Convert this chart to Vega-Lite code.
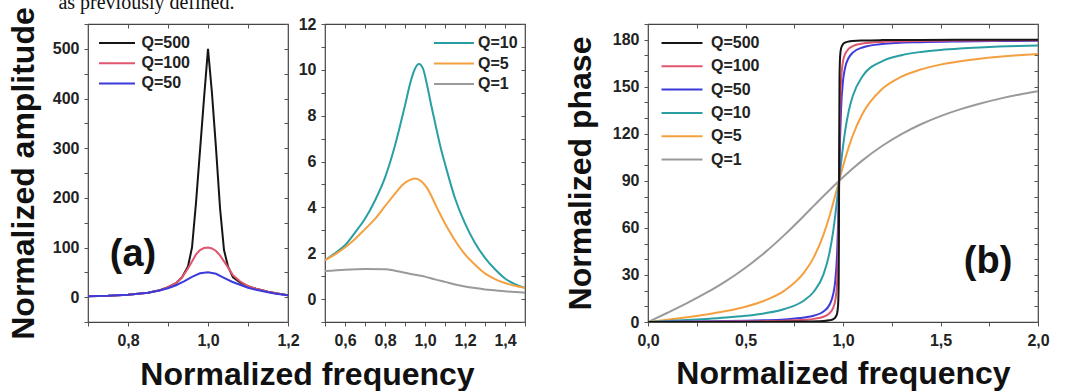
{
  "$schema": "https://vega.github.io/schema/vega-lite/v6.json",
  "background": "white",
  "padding": {"left": 6, "top": -7, "right": 0, "bottom": 0},
  "title": {"text": "as previously defined.", "anchor": "start", "font": "Liberation Serif", "fontSize": 20, "fontWeight": "normal", "color": "#111", "dx": 52, "offset": -7},
  "bounds": "flush",
  "spacing": 37,
  "config": {
    "font": "Liberation Sans",
    "view": {"stroke": "#444", "strokeWidth": 1.2},
    "axis": {"labelFont": "Liberation Sans", "labelFontWeight": "bold", "labelFontSize": 16, "labelColor": "#222", "tickColor": "#555", "tickWidth": 1, "tickSize": 4, "domain": false, "grid": false, "titleFont": "Liberation Sans", "titleFontWeight": "bold", "titleFontSize": 32, "titleColor": "#111", "labelOverlap": false, "labelFlush": false, "labelBound": false},
    "legend": {"labelFont": "Liberation Sans", "labelFontWeight": "bold", "labelFontSize": 16, "labelColor": "#222", "symbolStrokeWidth": 2.2, "padding": 0, "title": null, "orient": "none"},
    "line": {"strokeWidth": 2}
  },
  "datasets": {
    "amp1": [
      {"w": 0.7, "a": 2, "s": "Q=500"}, {"w": 0.75, "a": 3, "s": "Q=500"}, {"w": 0.8, "a": 5, "s": "Q=500"}, {"w": 0.85, "a": 9, "s": "Q=500"}, {"w": 0.88, "a": 14, "s": "Q=500"}, {"w": 0.9, "a": 20, "s": "Q=500"}, {"w": 0.92, "a": 28, "s": "Q=500"}, {"w": 0.935, "a": 40, "s": "Q=500"}, {"w": 0.95, "a": 62, "s": "Q=500"}, {"w": 0.96, "a": 100, "s": "Q=500"}, {"w": 0.97, "a": 190, "s": "Q=500"}, {"w": 0.98, "a": 295, "s": "Q=500"}, {"w": 0.99, "a": 400, "s": "Q=500"}, {"w": 1.0, "a": 500, "s": "Q=500"}, {"w": 1.01, "a": 410, "s": "Q=500"}, {"w": 1.02, "a": 300, "s": "Q=500"}, {"w": 1.03, "a": 180, "s": "Q=500"}, {"w": 1.04, "a": 95, "s": "Q=500"}, {"w": 1.05, "a": 62, "s": "Q=500"}, {"w": 1.0625, "a": 40, "s": "Q=500"}, {"w": 1.08, "a": 30, "s": "Q=500"}, {"w": 1.1, "a": 22, "s": "Q=500"}, {"w": 1.12, "a": 17, "s": "Q=500"}, {"w": 1.15, "a": 11, "s": "Q=500"}, {"w": 1.17, "a": 8, "s": "Q=500"}, {"w": 1.2, "a": 4, "s": "Q=500"},
      {"w": 0.7, "a": 2, "s": "Q=100"}, {"w": 0.75, "a": 3, "s": "Q=100"}, {"w": 0.8, "a": 5, "s": "Q=100"}, {"w": 0.85, "a": 9, "s": "Q=100"}, {"w": 0.88, "a": 14, "s": "Q=100"}, {"w": 0.9, "a": 20, "s": "Q=100"}, {"w": 0.92, "a": 28, "s": "Q=100"}, {"w": 0.935, "a": 40, "s": "Q=100"}, {"w": 0.95, "a": 58, "s": "Q=100"}, {"w": 0.96, "a": 72, "s": "Q=100"}, {"w": 0.97, "a": 86, "s": "Q=100"}, {"w": 0.98, "a": 95, "s": "Q=100"}, {"w": 0.99, "a": 99, "s": "Q=100"}, {"w": 1.0, "a": 100, "s": "Q=100"}, {"w": 1.01, "a": 98, "s": "Q=100"}, {"w": 1.02, "a": 93, "s": "Q=100"}, {"w": 1.03, "a": 84, "s": "Q=100"}, {"w": 1.04, "a": 72, "s": "Q=100"}, {"w": 1.05, "a": 60, "s": "Q=100"}, {"w": 1.0625, "a": 44, "s": "Q=100"}, {"w": 1.08, "a": 32, "s": "Q=100"}, {"w": 1.1, "a": 22, "s": "Q=100"}, {"w": 1.12, "a": 17, "s": "Q=100"}, {"w": 1.15, "a": 11, "s": "Q=100"}, {"w": 1.17, "a": 8, "s": "Q=100"}, {"w": 1.2, "a": 4, "s": "Q=100"},
      {"w": 0.7, "a": 2, "s": "Q=50"}, {"w": 0.75, "a": 3, "s": "Q=50"}, {"w": 0.8, "a": 5, "s": "Q=50"}, {"w": 0.85, "a": 9, "s": "Q=50"}, {"w": 0.88, "a": 14, "s": "Q=50"}, {"w": 0.9, "a": 18, "s": "Q=50"}, {"w": 0.92, "a": 24, "s": "Q=50"}, {"w": 0.94, "a": 32, "s": "Q=50"}, {"w": 0.96, "a": 41, "s": "Q=50"}, {"w": 0.98, "a": 48, "s": "Q=50"}, {"w": 1.0, "a": 50, "s": "Q=50"}, {"w": 1.02, "a": 47, "s": "Q=50"}, {"w": 1.04, "a": 39, "s": "Q=50"}, {"w": 1.06, "a": 31, "s": "Q=50"}, {"w": 1.08, "a": 25, "s": "Q=50"}, {"w": 1.1, "a": 19, "s": "Q=50"}, {"w": 1.12, "a": 15, "s": "Q=50"}, {"w": 1.15, "a": 10, "s": "Q=50"}, {"w": 1.17, "a": 7, "s": "Q=50"}, {"w": 1.2, "a": 4, "s": "Q=50"}
    ],
    "amp2": [
      {"w": 0.5, "a": 1.7, "s": "Q=10"}, {"w": 0.55, "a": 2.0, "s": "Q=10"}, {"w": 0.6, "a": 2.35, "s": "Q=10"}, {"w": 0.65, "a": 2.9, "s": "Q=10"}, {"w": 0.7, "a": 3.5, "s": "Q=10"}, {"w": 0.75, "a": 4.3, "s": "Q=10"}, {"w": 0.8, "a": 5.3, "s": "Q=10"}, {"w": 0.85, "a": 6.7, "s": "Q=10"}, {"w": 0.9, "a": 8.45, "s": "Q=10"}, {"w": 0.93, "a": 9.55, "s": "Q=10"}, {"w": 0.95, "a": 10.05, "s": "Q=10"}, {"w": 0.97, "a": 10.25, "s": "Q=10"}, {"w": 0.99, "a": 10.05, "s": "Q=10"}, {"w": 1.01, "a": 9.35, "s": "Q=10"}, {"w": 1.03, "a": 8.5, "s": "Q=10"}, {"w": 1.05, "a": 7.7, "s": "Q=10"}, {"w": 1.08, "a": 6.55, "s": "Q=10"}, {"w": 1.1, "a": 5.9, "s": "Q=10"}, {"w": 1.15, "a": 4.4, "s": "Q=10"}, {"w": 1.2, "a": 3.3, "s": "Q=10"}, {"w": 1.25, "a": 2.45, "s": "Q=10"}, {"w": 1.3, "a": 1.8, "s": "Q=10"}, {"w": 1.35, "a": 1.3, "s": "Q=10"}, {"w": 1.4, "a": 0.9, "s": "Q=10"}, {"w": 1.45, "a": 0.65, "s": "Q=10"}, {"w": 1.5, "a": 0.49, "s": "Q=10"},
      {"w": 0.5, "a": 1.7, "s": "Q=5"}, {"w": 0.55, "a": 1.95, "s": "Q=5"}, {"w": 0.6, "a": 2.25, "s": "Q=5"}, {"w": 0.65, "a": 2.62, "s": "Q=5"}, {"w": 0.7, "a": 3.05, "s": "Q=5"}, {"w": 0.75, "a": 3.5, "s": "Q=5"}, {"w": 0.8, "a": 4.05, "s": "Q=5"}, {"w": 0.85, "a": 4.6, "s": "Q=5"}, {"w": 0.89, "a": 5.0, "s": "Q=5"}, {"w": 0.92, "a": 5.18, "s": "Q=5"}, {"w": 0.95, "a": 5.26, "s": "Q=5"}, {"w": 0.98, "a": 5.15, "s": "Q=5"}, {"w": 1.01, "a": 4.85, "s": "Q=5"}, {"w": 1.06, "a": 3.98, "s": "Q=5"}, {"w": 1.1, "a": 3.3, "s": "Q=5"}, {"w": 1.14, "a": 2.7, "s": "Q=5"}, {"w": 1.2, "a": 1.95, "s": "Q=5"}, {"w": 1.25, "a": 1.5, "s": "Q=5"}, {"w": 1.3, "a": 1.12, "s": "Q=5"}, {"w": 1.35, "a": 0.87, "s": "Q=5"}, {"w": 1.4, "a": 0.7, "s": "Q=5"}, {"w": 1.45, "a": 0.58, "s": "Q=5"}, {"w": 1.5, "a": 0.49, "s": "Q=5"},
      {"w": 0.5, "a": 1.22, "s": "Q=1"}, {"w": 0.6, "a": 1.28, "s": "Q=1"}, {"w": 0.7, "a": 1.31, "s": "Q=1"}, {"w": 0.8, "a": 1.3, "s": "Q=1"}, {"w": 0.85, "a": 1.24, "s": "Q=1"}, {"w": 0.9, "a": 1.15, "s": "Q=1"}, {"w": 0.95, "a": 1.06, "s": "Q=1"}, {"w": 1.0, "a": 0.98, "s": "Q=1"}, {"w": 1.05, "a": 0.86, "s": "Q=1"}, {"w": 1.1, "a": 0.75, "s": "Q=1"}, {"w": 1.15, "a": 0.64, "s": "Q=1"}, {"w": 1.2, "a": 0.55, "s": "Q=1"}, {"w": 1.25, "a": 0.48, "s": "Q=1"}, {"w": 1.3, "a": 0.42, "s": "Q=1"}, {"w": 1.35, "a": 0.38, "s": "Q=1"}, {"w": 1.4, "a": 0.34, "s": "Q=1"}, {"w": 1.45, "a": 0.31, "s": "Q=1"}, {"w": 1.5, "a": 0.28, "s": "Q=1"}
    ],
    "phase": [
      {"w": 0, "p": 0, "s": "Q=1"}, {"w": 0.1, "p": 5.89, "s": "Q=1"}, {"w": 0.2, "p": 12.02, "s": "Q=1"}, {"w": 0.3, "p": 18.67, "s": "Q=1"}, {"w": 0.4, "p": 26.09, "s": "Q=1"}, {"w": 0.5, "p": 34.6, "s": "Q=1"}, {"w": 0.6, "p": 44.4, "s": "Q=1"}, {"w": 0.7, "p": 55.56, "s": "Q=1"}, {"w": 0.8, "p": 67.77, "s": "Q=1"}, {"w": 0.85, "p": 74.06, "s": "Q=1"}, {"w": 0.9, "p": 80.32, "s": "Q=1"}, {"w": 0.93, "p": 84.02, "s": "Q=1"}, {"w": 0.95, "p": 86.44, "s": "Q=1"}, {"w": 0.97, "p": 88.83, "s": "Q=1"}, {"w": 0.98, "p": 90, "s": "Q=1"}, {"w": 0.99, "p": 91.16, "s": "Q=1"}, {"w": 1.0, "p": 92.31, "s": "Q=1"}, {"w": 1.03, "p": 95.69, "s": "Q=1"}, {"w": 1.05, "p": 97.86, "s": "Q=1"}, {"w": 1.1, "p": 103.04, "s": "Q=1"}, {"w": 1.2, "p": 112.19, "s": "Q=1"}, {"w": 1.3, "p": 119.8, "s": "Q=1"}, {"w": 1.4, "p": 126.08, "s": "Q=1"}, {"w": 1.5, "p": 131.26, "s": "Q=1"}, {"w": 1.6, "p": 135.57, "s": "Q=1"}, {"w": 1.7, "p": 139.19, "s": "Q=1"}, {"w": 1.8, "p": 142.26, "s": "Q=1"}, {"w": 1.9, "p": 144.9, "s": "Q=1"}, {"w": 2.0, "p": 147.19, "s": "Q=1"},
      {"w": 0, "p": 0, "s": "Q=5"}, {"w": 0.1, "p": 1.48, "s": "Q=5"}, {"w": 0.2, "p": 3.05, "s": "Q=5"}, {"w": 0.3, "p": 4.83, "s": "Q=5"}, {"w": 0.4, "p": 6.98, "s": "Q=5"}, {"w": 0.5, "p": 9.78, "s": "Q=5"}, {"w": 0.6, "p": 13.76, "s": "Q=5"}, {"w": 0.7, "p": 20.03, "s": "Q=5"}, {"w": 0.8, "p": 31.46, "s": "Q=5"}, {"w": 0.85, "p": 41.2, "s": "Q=5"}, {"w": 0.9, "p": 55.7, "s": "Q=5"}, {"w": 0.93, "p": 67.26, "s": "Q=5"}, {"w": 0.95, "p": 76.03, "s": "Q=5"}, {"w": 0.96, "p": 80.63, "s": "Q=5"}, {"w": 0.97, "p": 85.31, "s": "Q=5"}, {"w": 0.98, "p": 90, "s": "Q=5"}, {"w": 0.99, "p": 94.64, "s": "Q=5"}, {"w": 1.0, "p": 99.18, "s": "Q=5"}, {"w": 1.01, "p": 103.56, "s": "Q=5"}, {"w": 1.03, "p": 111.72, "s": "Q=5"}, {"w": 1.05, "p": 118.91, "s": "Q=5"}, {"w": 1.1, "p": 132.8, "s": "Q=5"}, {"w": 1.2, "p": 148.5, "s": "Q=5"}, {"w": 1.3, "p": 156.42, "s": "Q=5"}, {"w": 1.4, "p": 161.06, "s": "Q=5"}, {"w": 1.5, "p": 164.09, "s": "Q=5"}, {"w": 1.6, "p": 166.23, "s": "Q=5"}, {"w": 1.7, "p": 167.82, "s": "Q=5"}, {"w": 1.8, "p": 169.05, "s": "Q=5"}, {"w": 1.9, "p": 170.04, "s": "Q=5"}, {"w": 2.0, "p": 170.84, "s": "Q=5"},
      {"w": 0, "p": 0, "s": "Q=10"}, {"w": 0.1, "p": 0.59, "s": "Q=10"}, {"w": 0.2, "p": 1.22, "s": "Q=10"}, {"w": 0.3, "p": 1.93, "s": "Q=10"}, {"w": 0.4, "p": 2.8, "s": "Q=10"}, {"w": 0.5, "p": 3.95, "s": "Q=10"}, {"w": 0.6, "p": 5.59, "s": "Q=10"}, {"w": 0.7, "p": 8.3, "s": "Q=10"}, {"w": 0.8, "p": 13.75, "s": "Q=10"}, {"w": 0.85, "p": 19.3, "s": "Q=10"}, {"w": 0.9, "p": 30.39, "s": "Q=10"}, {"w": 0.93, "p": 43.66, "s": "Q=10"}, {"w": 0.95, "p": 58.12, "s": "Q=10"}, {"w": 0.96, "p": 67.59, "s": "Q=10"}, {"w": 0.97, "p": 78.41, "s": "Q=10"}, {"w": 0.975, "p": 84.16, "s": "Q=10"}, {"w": 0.98, "p": 90, "s": "Q=10"}, {"w": 0.985, "p": 95.81, "s": "Q=10"}, {"w": 0.99, "p": 101.48, "s": "Q=10"}, {"w": 1.0, "p": 112.0, "s": "Q=10"}, {"w": 1.01, "p": 121.09, "s": "Q=10"}, {"w": 1.03, "p": 134.87, "s": "Q=10"}, {"w": 1.05, "p": 144.09, "s": "Q=10"}, {"w": 1.1, "p": 156.64, "s": "Q=10"}, {"w": 1.2, "p": 166.22, "s": "Q=10"}, {"w": 1.3, "p": 170.1, "s": "Q=10"}, {"w": 1.4, "p": 172.19, "s": "Q=10"}, {"w": 1.5, "p": 173.5, "s": "Q=10"}, {"w": 1.6, "p": 174.4, "s": "Q=10"}, {"w": 1.7, "p": 175.06, "s": "Q=10"}, {"w": 1.8, "p": 175.58, "s": "Q=10"}, {"w": 1.9, "p": 175.98, "s": "Q=10"}, {"w": 2.0, "p": 176.31, "s": "Q=10"},
      {"w": 0, "p": 0, "s": "Q=50"}, {"w": 0.2, "p": 0.24, "s": "Q=50"}, {"w": 0.4, "p": 0.56, "s": "Q=50"}, {"w": 0.5, "p": 0.79, "s": "Q=50"}, {"w": 0.6, "p": 1.12, "s": "Q=50"}, {"w": 0.7, "p": 1.67, "s": "Q=50"}, {"w": 0.8, "p": 2.8, "s": "Q=50"}, {"w": 0.85, "p": 4.01, "s": "Q=50"}, {"w": 0.9, "p": 6.69, "s": "Q=50"}, {"w": 0.93, "p": 10.81, "s": "Q=50"}, {"w": 0.95, "p": 17.83, "s": "Q=50"}, {"w": 0.96, "p": 25.87, "s": "Q=50"}, {"w": 0.97, "p": 44.28, "s": "Q=50"}, {"w": 0.975, "p": 62.9, "s": "Q=50"}, {"w": 0.978, "p": 78.45, "s": "Q=50"}, {"w": 0.98, "p": 90, "s": "Q=50"}, {"w": 0.982, "p": 101.55, "s": "Q=50"}, {"w": 0.985, "p": 116.97, "s": "Q=50"}, {"w": 0.99, "p": 135.43, "s": "Q=50"}, {"w": 1.0, "p": 153.67, "s": "Q=50"}, {"w": 1.01, "p": 161.65, "s": "Q=50"}, {"w": 1.03, "p": 168.64, "s": "Q=50"}, {"w": 1.05, "p": 171.76, "s": "Q=50"}, {"w": 1.1, "p": 175.06, "s": "Q=50"}, {"w": 1.2, "p": 177.19, "s": "Q=50"}, {"w": 1.4, "p": 178.43, "s": "Q=50"}, {"w": 1.6, "p": 178.88, "s": "Q=50"}, {"w": 1.8, "p": 179.11, "s": "Q=50"}, {"w": 2.0, "p": 179.26, "s": "Q=50"},
      {"w": 0, "p": 0, "s": "Q=100"}, {"w": 0.2, "p": 0.12, "s": "Q=100"}, {"w": 0.4, "p": 0.28, "s": "Q=100"}, {"w": 0.6, "p": 0.56, "s": "Q=100"}, {"w": 0.7, "p": 0.84, "s": "Q=100"}, {"w": 0.8, "p": 1.4, "s": "Q=100"}, {"w": 0.85, "p": 2.0, "s": "Q=100"}, {"w": 0.9, "p": 3.36, "s": "Q=100"}, {"w": 0.93, "p": 5.45, "s": "Q=100"}, {"w": 0.95, "p": 9.13, "s": "Q=100"}, {"w": 0.96, "p": 13.63, "s": "Q=100"}, {"w": 0.97, "p": 26.0, "s": "Q=100"}, {"w": 0.975, "p": 44.34, "s": "Q=100"}, {"w": 0.978, "p": 67.77, "s": "Q=100"}, {"w": 0.98, "p": 90, "s": "Q=100"}, {"w": 0.982, "p": 112.23, "s": "Q=100"}, {"w": 0.985, "p": 135.5, "s": "Q=100"}, {"w": 0.99, "p": 153.78, "s": "Q=100"}, {"w": 1.0, "p": 166.1, "s": "Q=100"}, {"w": 1.01, "p": 170.59, "s": "Q=100"}, {"w": 1.03, "p": 174.26, "s": "Q=100"}, {"w": 1.05, "p": 175.86, "s": "Q=100"}, {"w": 1.1, "p": 177.53, "s": "Q=100"}, {"w": 1.2, "p": 178.6, "s": "Q=100"}, {"w": 1.4, "p": 179.21, "s": "Q=100"}, {"w": 1.6, "p": 179.44, "s": "Q=100"}, {"w": 1.8, "p": 179.56, "s": "Q=100"}, {"w": 2.0, "p": 179.63, "s": "Q=100"},
      {"w": 0, "p": 0, "s": "Q=500"}, {"w": 0.4, "p": 0.06, "s": "Q=500"}, {"w": 0.6, "p": 0.11, "s": "Q=500"}, {"w": 0.8, "p": 0.28, "s": "Q=500"}, {"w": 0.9, "p": 0.67, "s": "Q=500"}, {"w": 0.93, "p": 1.09, "s": "Q=500"}, {"w": 0.95, "p": 1.84, "s": "Q=500"}, {"w": 0.96, "p": 2.78, "s": "Q=500"}, {"w": 0.97, "p": 5.57, "s": "Q=500"}, {"w": 0.975, "p": 11.06, "s": "Q=500"}, {"w": 0.978, "p": 26.06, "s": "Q=500"}, {"w": 0.98, "p": 90, "s": "Q=500"}, {"w": 0.982, "p": 153.94, "s": "Q=500"}, {"w": 0.985, "p": 168.88, "s": "Q=500"}, {"w": 0.99, "p": 174.37, "s": "Q=500"}, {"w": 1.0, "p": 177.17, "s": "Q=500"}, {"w": 1.01, "p": 178.1, "s": "Q=500"}, {"w": 1.03, "p": 178.85, "s": "Q=500"}, {"w": 1.05, "p": 179.17, "s": "Q=500"}, {"w": 1.1, "p": 179.51, "s": "Q=500"}, {"w": 1.2, "p": 179.72, "s": "Q=500"}, {"w": 1.4, "p": 179.84, "s": "Q=500"}, {"w": 1.6, "p": 179.89, "s": "Q=500"}, {"w": 1.8, "p": 179.91, "s": "Q=500"}, {"w": 2.0, "p": 179.93, "s": "Q=500"}
    ]
  },
  "resolve": {"scale": {"color": "independent", "x": "independent", "y": "independent"}},
  "hconcat": [
    {
      "width": 200, "height": 298,
      "layer": [
        {
          "data": {"name": "amp1"},
          "mark": {"type": "line", "strokeWidth": 2, "clip": true},
          "encoding": {
            "x": {"field": "w", "type": "quantitative", "scale": {"domain": [0.7, 1.2], "nice": false, "zero": false},
              "axis": {"orient": "bottom", "values": [0.7, 0.8, 0.9, 1.0, 1.1, 1.2], "labelExpr": "round(datum.value*10)%2==0 ? replace(format(datum.value,'.1f'),'.',',') : ''", "labelPadding": 6, "title": "Normalized frequency", "titleX": 219, "titleY": 62, "titleBaseline": "alphabetic", "titleAlign": "center"}},
            "y": {"field": "a", "type": "quantitative", "scale": {"domain": [-50, 550], "nice": false, "zero": false},
              "axis": {"orient": "left", "values": [-50, 0, 50, 100, 150, 200, 250, 300, 350, 400, 450, 500, 550], "labelExpr": "datum.value>=0 && datum.value<=500 && datum.value%100==0 ? format(datum.value,'d') : ''", "labelPadding": 5, "title": "Normalized amplitude", "titleX": -55, "titleY": 149, "titleBaseline": "alphabetic", "titleAlign": "center", "titleAngle": 270}},
            "color": {"field": "s", "type": "nominal", "scale": {"domain": ["Q=500", "Q=100", "Q=50"], "range": ["#151515", "#e0566e", "#3b3bdc"]},
              "legend": {"legendX": 21, "legendY": 11, "symbolType": "M-4,0H4", "symbolSize": 81, "labelOffset": 16.5, "rowPadding": 4.2}}
          }
        },
        {
          "data": {"name": "amp1"},
          "mark": {"type": "line", "opacity": 0},
          "encoding": {
            "x": {"field": "w", "type": "quantitative", "axis": {"orient": "top", "values": [0.7, 0.8, 0.9, 1.0, 1.1, 1.2], "labels": false, "tickSize": -4, "title": null}},
            "y": {"field": "a", "type": "quantitative", "axis": {"orient": "right", "values": [-50, 0, 50, 100, 150, 200, 250, 300, 350, 400, 450, 500, 550], "labels": false, "tickSize": -4, "title": null}},
            "detail": {"field": "s"}
          }
        },
        {
          "data": {"values": [{"label": "(a)"}]},
          "mark": {"type": "text", "font": "Liberation Sans", "fontWeight": "bold", "fontSize": 38, "align": "center", "baseline": "middle", "color": "#111"},
          "encoding": {
            "x": {"datum": 0.8125, "type": "quantitative", "axis": null},
            "y": {"datum": 85, "type": "quantitative", "axis": null},
            "text": {"field": "label"}
          }
        }
      ],
      "resolve": {"axis": {"x": "independent", "y": "independent"}}
    },
    {
      "width": 200, "height": 298,
      "layer": [
        {
          "data": {"name": "amp2"},
          "mark": {"type": "line", "strokeWidth": 2, "clip": true, "interpolate": "monotone"},
          "encoding": {
            "x": {"field": "w", "type": "quantitative", "scale": {"domain": [0.5, 1.5], "nice": false, "zero": false},
              "axis": {"orient": "bottom", "values": [0.5, 0.6, 0.7, 0.8, 0.9, 1.0, 1.1, 1.2, 1.3, 1.4, 1.5], "labelExpr": "round(datum.value*10)%2==0 ? replace(format(datum.value,'.1f'),'.',',') : ''", "labelPadding": 6, "title": null}},
            "y": {"field": "a", "type": "quantitative", "scale": {"domain": [-1, 12], "nice": false, "zero": false},
              "axis": {"orient": "left", "values": [-1, 0, 1, 2, 3, 4, 5, 6, 7, 8, 9, 10, 11, 12], "labelExpr": "datum.value>=0 && datum.value%2==0 ? format(datum.value,'d') : ''", "labelPadding": 5, "title": null}},
            "color": {"field": "s", "type": "nominal", "scale": {"domain": ["Q=10", "Q=5", "Q=1"], "range": ["#2a9fa3", "#f4a040", "#9a9a9a"]},
              "legend": {"legendX": 121, "legendY": 11, "symbolType": "M-4,0H4", "symbolSize": 100, "labelOffset": 16, "rowPadding": 4.5}}
          }
        },
        {
          "data": {"name": "amp2"},
          "mark": {"type": "line", "opacity": 0},
          "encoding": {
            "x": {"field": "w", "type": "quantitative", "axis": {"orient": "top", "values": [0.5, 0.6, 0.7, 0.8, 0.9, 1.0, 1.1, 1.2, 1.3, 1.4, 1.5], "labels": false, "tickSize": -4, "title": null}},
            "y": {"field": "a", "type": "quantitative", "axis": {"orient": "right", "values": [-1, 0, 1, 2, 3, 4, 5, 6, 7, 8, 9, 10, 11, 12], "labels": false, "tickSize": -4, "title": null}},
            "detail": {"field": "s"}
          }
        }
      ],
      "resolve": {"axis": {"x": "independent", "y": "independent"}}
    },
    {
      "width": 49, "height": 298,
      "view": {"stroke": null},
      "data": {"values": [{"v": 0}]},
      "mark": {"type": "point", "opacity": 0},
      "encoding": {}
    },
    {
      "width": 390, "height": 298,
      "layer": [
        {
          "data": {"name": "phase"},
          "mark": {"type": "line", "strokeWidth": 2, "clip": true, "interpolate": "monotone"},
          "encoding": {
            "x": {"field": "w", "type": "quantitative", "scale": {"domain": [0, 2], "nice": false, "zero": false},
              "axis": {"orient": "bottom", "values": [0, 0.25, 0.5, 0.75, 1.0, 1.25, 1.5, 1.75, 2.0], "labelExpr": "round(datum.value*4)%2==0 ? replace(format(datum.value,'.1f'),'.',',') : ''", "labelPadding": 6, "title": "Normalized frequency", "titleY": 61, "titleBaseline": "alphabetic", "titleAlign": "center"}},
            "y": {"field": "p", "type": "quantitative", "scale": {"domain": [0, 190], "nice": false, "zero": false},
              "axis": {"orient": "left", "values": [0, 10, 20, 30, 40, 50, 60, 70, 80, 90, 100, 110, 120, 130, 140, 150, 160, 170, 180, 190], "labelExpr": "datum.value%30==0 ? format(datum.value,'d') : ''", "labelPadding": 5, "title": "Normalized phase", "titleX": -58, "titleY": 149, "titleBaseline": "alphabetic", "titleAlign": "center", "titleAngle": 270}},
            "color": {"field": "s", "type": "nominal", "scale": {"domain": ["Q=500", "Q=100", "Q=50", "Q=10", "Q=5", "Q=1"], "range": ["#151515", "#e0566e", "#3b3bdc", "#2a9fa3", "#f4a040", "#9a9a9a"]},
              "legend": {"legendX": 26, "legendY": 11, "symbolType": "M-4,0H4", "symbolSize": 105, "labelOffset": 21, "rowPadding": 7.3}}
          }
        },
        {
          "data": {"name": "phase"},
          "mark": {"type": "line", "opacity": 0},
          "encoding": {
            "x": {"field": "w", "type": "quantitative", "axis": {"orient": "top", "values": [0, 0.25, 0.5, 0.75, 1.0, 1.25, 1.5, 1.75, 2.0], "labels": false, "tickSize": -4, "title": null}},
            "y": {"field": "p", "type": "quantitative", "axis": {"orient": "right", "values": [0, 10, 20, 30, 40, 50, 60, 70, 80, 90, 100, 110, 120, 130, 140, 150, 160, 170, 180, 190], "labels": false, "tickSize": -4, "title": null}},
            "detail": {"field": "s"}
          }
        },
        {
          "data": {"values": [{"label": "(b)"}]},
          "mark": {"type": "text", "font": "Liberation Sans", "fontWeight": "bold", "fontSize": 38, "align": "center", "baseline": "middle", "color": "#111"},
          "encoding": {
            "x": {"datum": 1.744, "type": "quantitative", "axis": null},
            "y": {"datum": 38, "type": "quantitative", "axis": null},
            "text": {"field": "label"}
          }
        }
      ],
      "resolve": {"axis": {"x": "independent", "y": "independent"}}
    }
  ]
}
